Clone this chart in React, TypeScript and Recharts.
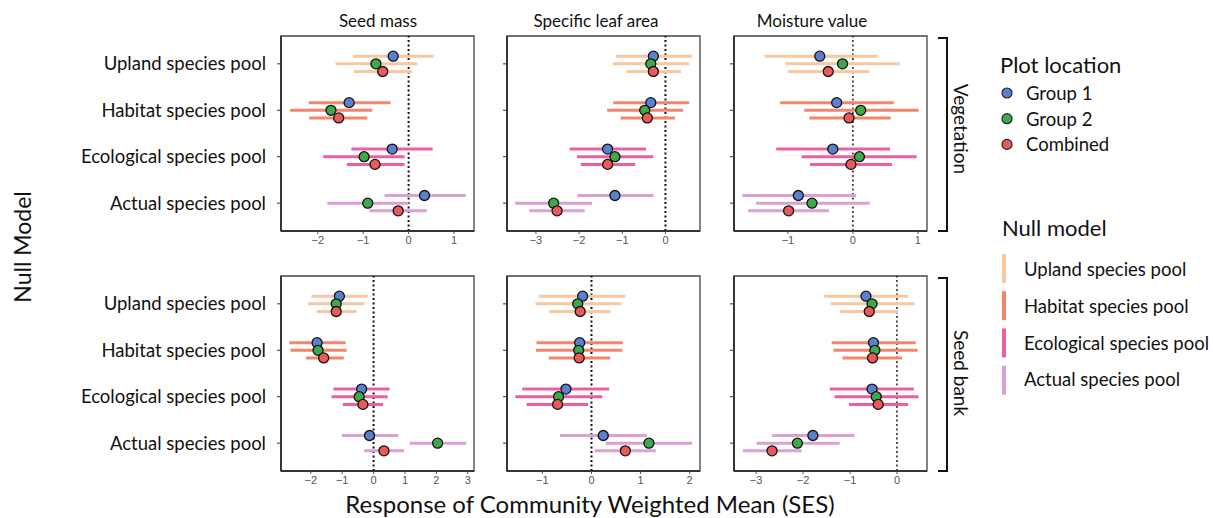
import {
  ScatterChart,
  Scatter,
  XAxis,
  YAxis,
  ErrorBar,
  ReferenceLine,
  ReferenceArea,
} from 'recharts';

// categories
const POOLS = ['Upland species pool', 'Habitat species pool', 'Ecological species pool', 'Actual species pool'];
const GROUPS = ['Group 1', 'Group 2', 'Combined'];
const TRAITS = ['Seed mass', 'Specific leaf area', 'Moisture value'];
const SOURCES = ['Vegetation', 'Seed bank'];

// values are pool-major: [Upland G1, G2, Comb, Habitat G1, G2, Comb, ...]
const vegSeedMassEst = [-0.34, -0.72, -0.57, -1.31, -1.71, -1.54, -0.36, -0.98, -0.74, 0.35, -0.9, -0.23];
const vegSeedMassLo = [-1.23, -1.61, -1.2, -2.2, -2.61, -2.19, -1.26, -1.88, -1.36, -0.53, -1.79, -0.86];
const vegSeedMassHi = [0.55, 0.19, 0.07, -0.4, -0.8, -0.91, 0.53, -0.09, -0.09, 1.26, 0.0, 0.4];

const vegSlaEst = [-0.28, -0.34, -0.28, -0.34, -0.48, -0.42, -1.34, -1.17, -1.34, -1.17, -2.59, -2.51];
const vegSlaLo = [-1.15, -1.22, -0.9, -1.21, -1.35, -1.04, -2.22, -2.05, -1.96, -2.04, -3.48, -3.15];
const vegSlaHi = [0.62, 0.55, 0.36, 0.55, 0.41, 0.22, -0.45, -0.28, -0.7, -0.28, -1.7, -1.87];

const vegMoistEst = [-0.51, -0.16, -0.38, -0.25, 0.12, -0.06, -0.31, 0.1, -0.03, -0.84, -0.63, -0.99];
const vegMoistLo = [-1.36, -1.04, -1.0, -1.12, -0.75, -0.67, -1.18, -0.79, -0.66, -1.7, -1.49, -1.61];
const vegMoistHi = [0.38, 0.72, 0.25, 0.63, 1.01, 0.58, 0.57, 0.98, 0.6, 0.05, 0.26, -0.37];

const sbSeedMassEst = [-1.09, -1.19, -1.19, -1.8, -1.77, -1.59, -0.38, -0.46, -0.34, -0.13, 2.04, 0.33];
const sbSeedMassLo = [-1.98, -2.09, -1.81, -2.68, -2.65, -2.15, -1.28, -1.34, -0.98, -1.01, 1.15, -0.3];
const sbSeedMassHi = [-0.19, -0.3, -0.54, -0.89, -0.86, -0.95, 0.51, 0.45, 0.3, 0.79, 2.95, 0.97];

const sbSlaEst = [-0.18, -0.28, -0.23, -0.24, -0.26, -0.25, -0.52, -0.67, -0.69, 0.24, 1.17, 0.69];
const sbSlaLo = [-1.07, -1.14, -0.86, -1.12, -1.13, -0.87, -1.41, -1.55, -1.32, -0.64, 0.29, 0.07];
const sbSlaHi = [0.69, 0.61, 0.39, 0.64, 0.63, 0.38, 0.36, 0.22, -0.07, 1.13, 2.05, 1.31];

const sbMoistEst = [-0.66, -0.53, -0.59, -0.5, -0.47, -0.52, -0.53, -0.44, -0.4, -1.79, -2.12, -2.66];
const sbMoistLo = [-1.55, -1.41, -1.22, -1.39, -1.35, -1.16, -1.43, -1.33, -1.02, -2.66, -2.99, -3.28];
const sbMoistHi = [0.24, 0.37, 0.03, 0.4, 0.44, 0.11, 0.36, 0.46, 0.24, -0.9, -1.22, -2.03];

// x-axis ticks per panel
const vegSeedMassTicks = [-2, -1, 0, 1];
const vegSlaTicks = [-3, -2, -1, 0];
const vegMoistTicks = [-1, 0, 1];
const sbSeedMassTicks = [-2, -1, 0, 1, 2, 3];
const sbSlaTicks = [-1, 0, 1, 2];
const sbMoistTicks = [-3, -2, -1, 0];

const GROUP_COLORS = ['#5b80d0', '#3daa4a', '#e95b5b'];
const POOL_COLORS = ['#f8c8a0', '#f2856b', '#ef5ea0', '#d9a1d5'];

const TEXT_FONT = 'Lato, "Open Sans", sans-serif';
const TICK_FONT = '"Liberation Sans", Arial, sans-serif';

interface Panel {
  est: number[];
  lo: number[];
  hi: number[];
  ticks: number[];
  domain: [number, number];
}

const PANELS: Panel[][] = [
  [
    { est: vegSeedMassEst, lo: vegSeedMassLo, hi: vegSeedMassHi, ticks: vegSeedMassTicks, domain: [-2.81, 1.44] },
    { est: vegSlaEst, lo: vegSlaLo, hi: vegSlaHi, ticks: vegSlaTicks, domain: [-3.67, 0.8] },
    { est: vegMoistEst, lo: vegMoistLo, hi: vegMoistHi, ticks: vegMoistTicks, domain: [-1.83, 1.14] },
  ],
  [
    { est: sbSeedMassEst, lo: sbSeedMassLo, hi: sbSeedMassHi, ticks: sbSeedMassTicks, domain: [-2.95, 3.2] },
    { est: sbSlaEst, lo: sbSlaLo, hi: sbSlaHi, ticks: sbSlaTicks, domain: [-1.72, 2.21] },
    { est: sbMoistEst, lo: sbMoistLo, hi: sbMoistHi, ticks: sbMoistTicks, domain: [-3.47, 0.64] },
  ],
];

// layout
const COL_X = [281, 507, 734];
const ROW_Y = [36, 276];
const PLOT_W = 193;
const PLOT_H = 195;
const DODGE = 0.165;
const TITLE_X = [378, 596, 812];
const STRIP_Y = [129, 373];

/** rows for one pool: one point per group, with asymmetric x error */
function poolRows(p: Panel, poolIdx: number) {
  return GROUPS.map((_, g) => {
    const i = poolIdx * GROUPS.length + g;
    return {
      x: p.est[i],
      y: POOLS.length - poolIdx + (1 - g) * DODGE,
      err: [p.est[i] - p.lo[i], p.hi[i] - p.est[i]],
      g,
    };
  });
}

const fmtTick = (v: number) => String(v).replace('-', '\u2212');

function Dot(props: any) {
  const { cx, cy, payload } = props;
  if (cx == null || cy == null) return null;
  return <circle cx={cx} cy={cy} r={5} fill={GROUP_COLORS[payload.g]} stroke="#111" strokeWidth={1.3} />;
}

function PanelChart({ panel, row, col }: { panel: Panel; row: number; col: number }) {
  const yw = col === 0 ? 240 : 30;
  const top = 4;
  const right = 6;
  const xh = 30;
  return (
    <div style={{ position: 'absolute', left: COL_X[col] - yw, top: ROW_Y[row] - top }}>
      <ScatterChart
        width={yw + PLOT_W + right}
        height={top + PLOT_H + xh}
        margin={{ top, right, bottom: 0, left: 0 }}
      >
        <XAxis
          type="number"
          dataKey="x"
          domain={panel.domain}
          allowDataOverflow
          ticks={panel.ticks}
          tickFormatter={fmtTick}
          height={xh}
          tickSize={3}
          tickMargin={2}
          axisLine={{ stroke: '#222', strokeWidth: 1.6 }}
          tickLine={{ stroke: '#555' }}
          tick={{ fill: '#555', fontSize: 11, fontFamily: TICK_FONT }}
        />
        <YAxis
          type="number"
          dataKey="y"
          domain={[0.4, 4.6]}
          allowDataOverflow
          ticks={[1, 2, 3, 4]}
          tickFormatter={(v: number) => (col === 0 ? POOLS[POOLS.length - v] : '')}
          width={yw}
          tickSize={4}
          tickMargin={11}
          axisLine={{ stroke: '#222', strokeWidth: 1.6 }}
          tickLine={{ stroke: '#333' }}
          tick={{ fill: '#111', fontSize: 18.5, fontFamily: TEXT_FONT }}
        />
        <ReferenceArea
          x1={panel.domain[0]}
          x2={panel.domain[1]}
          y1={0.4}
          y2={4.6}
          fill="none"
          stroke="#444"
          strokeWidth={1.3}
        />
        <ReferenceLine x={0} stroke="#111" strokeWidth={col === 2 ? 1.4 : 2} strokeDasharray="2 2.5" />
        {POOLS.map((pool, pi) => (
          <Scatter
            key={pool}
            name={pool}
            data={poolRows(panel, pi)}
            shape={<Dot />}
            isAnimationActive={false}
          >
            <ErrorBar
              dataKey="err"
              direction="x"
              width={0}
              stroke={POOL_COLORS[pi]}
              strokeWidth={3}
              isAnimationActive={false}
            />
          </Scatter>
        ))}
      </ScatterChart>
    </div>
  );
}

export default function App() {
  return (
    <div
      style={{
        position: 'absolute',
        left: 0,
        top: 0,
        width: 1213,
        height: 518,
        background: '#fff',
        fontFamily: TEXT_FONT,
      }}
    >
      {PANELS.map((rowPanels, r) =>
        rowPanels.map((p, c) => <PanelChart key={`${r}-${c}`} panel={p} row={r} col={c} />)
      )}
      <svg
        width={1213}
        height={518}
        style={{ position: 'absolute', left: 0, top: 0, pointerEvents: 'none' }}
        fontFamily={TEXT_FONT}
      >
        {TRAITS.map((t, c) => (
          <text key={t} x={TITLE_X[c]} y={20} textAnchor="middle" dominantBaseline="central" fontSize={17} fill="#111">
            {t}
          </text>
        ))}
        <text transform="translate(22,247) rotate(-90)" textAnchor="middle" dominantBaseline="central" fontSize={23} fill="#111">
          Null Model
        </text>
        <text x={590} y={503} textAnchor="middle" dominantBaseline="central" fontSize={24} fill="#111">
          Response of Community Weighted Mean (SES)
        </text>

        {SOURCES.map((s, r) => (
          <g key={s}>
            <path
              d={`M938,${ROW_Y[r] + 2} H947 V${ROW_Y[r] + PLOT_H} H938`}
              fill="none"
              stroke="#111"
              strokeWidth={2}
            />
            <text
              transform={`translate(961,${STRIP_Y[r]}) rotate(90)`}
              textAnchor="middle"
              dominantBaseline="central"
              fontSize={19}
              fill="#111"
            >
              {s}
            </text>
          </g>
        ))}

        <text x={1000} y={64} dominantBaseline="central" fontSize={22} fill="#111">
          Plot location
        </text>
        {GROUPS.map((g, i) => (
          <g key={g}>
            <circle cx={1007} cy={93 + i * 25.7} r={5} fill={GROUP_COLORS[i]} stroke="#222" strokeWidth={1.2} />
            <text x={1026} y={93 + i * 25.7} dominantBaseline="central" fontSize={18.5} fill="#111">
              {g}
            </text>
          </g>
        ))}

        <text x={1002} y={227} dominantBaseline="central" fontSize={22} fill="#111">
          Null model
        </text>
        {POOLS.map((p, i) => (
          <g key={p}>
            <line x1={1004} x2={1004} y1={254 + i * 37.2} y2={283 + i * 37.2} stroke={POOL_COLORS[i]} strokeWidth={4} />
            <text x={1024} y={269 + i * 36.8} dominantBaseline="central" fontSize={18.5} fill="#111">
              {p}
            </text>
          </g>
        ))}
      </svg>
    </div>
  );
}
